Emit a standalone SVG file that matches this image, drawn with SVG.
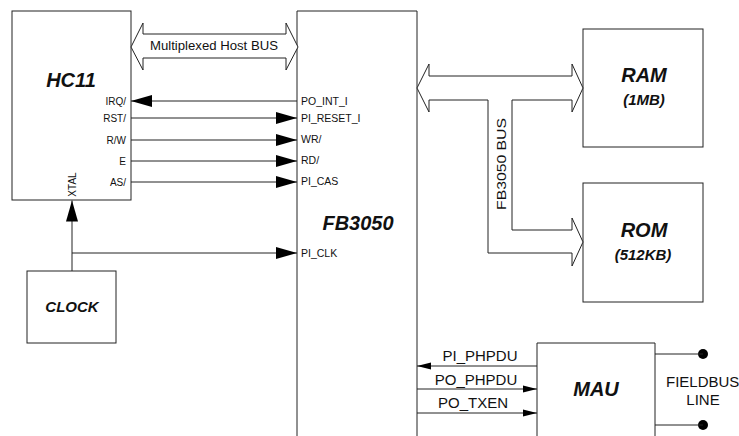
<svg xmlns="http://www.w3.org/2000/svg" width="739" height="436" viewBox="0 0 739 436">
<style>
.box{fill:#fff;stroke:#222;stroke-width:1}
.bus{fill:#fff;stroke:#222;stroke-width:1}
.ln{fill:none;stroke:#222;stroke-width:1}
text{font-family:"Liberation Sans",Arial,sans-serif;fill:#111}
.big{font-weight:bold;font-style:italic;text-anchor:middle}
.sig{font-size:10.5px}
.sigr{font-size:10px;text-anchor:end}
.lab{font-size:15px;text-anchor:middle}
</style>
<defs>
<marker id="ah" markerUnits="userSpaceOnUse" markerWidth="21" markerHeight="12" refX="21" refY="6" orient="auto" overflow="visible">
<path d="M0,0 L21,6 L0,12 z" fill="#000"/>
</marker>
<marker id="as" markerUnits="userSpaceOnUse" markerWidth="14" markerHeight="7" refX="14" refY="3.5" orient="auto" overflow="visible">
<path d="M0,0 L14,3.5 L0,7 z" fill="#000"/>
</marker>
</defs>
<rect width="739" height="436" fill="#fff"/>

<g id="fb3050">
<path class="box" d="M297,440 L297,11 L417,11 L417,440"/>
<text class="big" x="358" y="230" font-size="20">FB3050</text>
<text class="sig" x="301" y="105">PO_INT_I</text>
<text class="sig" x="301" y="122">PI_RESET_I</text>
<text class="sig" x="301" y="143">WR/</text>
<text class="sig" x="301" y="164">RD/</text>
<text class="sig" x="301" y="185">PI_CAS</text>
<text class="sig" x="301" y="257">PI_CLK</text>
</g>

<g id="hc11">
<rect class="box" x="12" y="11" width="119" height="189"/>
<text class="big" x="71" y="87" font-size="20">HC11</text>
<text class="sigr" x="126" y="105">IRQ/</text>
<text class="sigr" x="126" y="122">RST/</text>
<text class="sigr" x="126" y="144">R/W</text>
<text class="sigr" x="126" y="165">E</text>
<text class="sigr" x="126" y="186">AS/</text>
<text class="sigr" transform="translate(76,184.5) rotate(-90)" text-anchor="middle" style="text-anchor:middle">XTAL</text>
</g>

<g id="clock">
<rect class="box" x="27" y="271" width="89" height="72"/>
<text class="big" x="72" y="312" font-size="15">CLOCK</text>
</g>

<g id="ram">
<rect class="box" x="583" y="29" width="120" height="118"/>
<text class="big" x="644" y="82" font-size="20">RAM</text>
<text class="big" x="644" y="105" font-size="15">(1MB)</text>
</g>

<g id="rom">
<rect class="box" x="583" y="183" width="120" height="119"/>
<text class="big" x="644" y="237" font-size="20">ROM</text>
<text class="big" x="643" y="260" font-size="15">(512KB)</text>
</g>

<g id="mau">
<path class="box" d="M537,440 L537,343 L655,343 L655,440"/>
<text class="big" x="596" y="396" font-size="20">MAU</text>
</g>

<g id="fieldbus">
<text x="666" y="387" font-size="15">FIELDBUS</text>
<text class="lab" x="703" y="405">LINE</text>
<circle cx="703" cy="354" r="5" fill="#000"/>
<circle cx="703" cy="425" r="5" fill="#000"/>
</g>

<g id="connectors">
<polygon class="bus" points="131,47 143,23 143,34 286,34 286,23 298,47 286,70 286,58 143,58 143,70"/>
<text x="214" y="50" font-size="12" text-anchor="middle" textLength="128" lengthAdjust="spacingAndGlyphs">Multiplexed Host BUS</text>

<polygon class="bus" points="417,88 429,64 429,76 572,76 572,64 583,88 572,112 572,100 512,100 512,230 572,230 572,218 583,242 572,266 572,253 488,253 488,100 429,100 429,112"/>
<text transform="translate(506,164) rotate(-90)" font-size="13" text-anchor="middle" textLength="92" lengthAdjust="spacingAndGlyphs">FB3050 BUS</text>

<line class="ln" x1="297" y1="101" x2="131" y2="101" marker-end="url(#ah)"/>
<line class="ln" x1="131" y1="118" x2="297" y2="118" marker-end="url(#ah)"/>
<line class="ln" x1="131" y1="140" x2="297" y2="140" marker-end="url(#ah)"/>
<line class="ln" x1="131" y1="161" x2="297" y2="161" marker-end="url(#ah)"/>
<line class="ln" x1="131" y1="182" x2="297" y2="182" marker-end="url(#ah)"/>

<line class="ln" x1="72" y1="271" x2="72" y2="200.5" marker-end="url(#ah)"/>
<line class="ln" x1="72" y1="253" x2="297" y2="253" marker-end="url(#ah)"/>

<line class="ln" x1="537" y1="366" x2="417" y2="366" marker-end="url(#as)"/>
<line class="ln" x1="417" y1="389" x2="537" y2="389" marker-end="url(#as)"/>
<line class="ln" x1="417" y1="413" x2="537" y2="413" marker-end="url(#as)"/>
<text class="lab" x="480" y="361">PI_PHPDU</text>
<text class="lab" x="476" y="385">PO_PHPDU</text>
<text class="lab" x="473" y="408">PO_TXEN</text>

<line class="ln" x1="655" y1="354" x2="703" y2="354"/>
<line class="ln" x1="655" y1="425" x2="703" y2="425"/>
</g>
</svg>
